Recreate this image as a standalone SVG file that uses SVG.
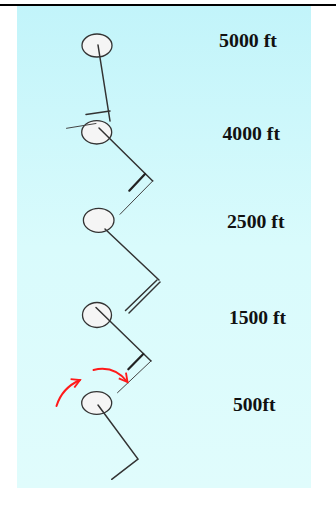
<svg xmlns="http://www.w3.org/2000/svg" width="336" height="508" viewBox="0 0 336 508">
<defs>
<linearGradient id="bg" x1="0" y1="0" x2="0" y2="1">
<stop offset="0" stop-color="#c2f4fa"/>
<stop offset="0.5" stop-color="#d9fbfc"/>
<stop offset="1" stop-color="#e0fcfc"/>
</linearGradient>
<marker id="ah2" viewBox="0 0 12 12" refX="10" refY="6" markerWidth="11" markerHeight="11" orient="auto" markerUnits="userSpaceOnUse">
<path d="M1,1 L10,6 L1,11" fill="none" stroke="#ff1a1a" stroke-width="2"/>
</marker>
</defs>
<style>
.balloon{fill:#f5f5f5;stroke:#333;stroke-width:1.3}
.line{fill:none;stroke:#333;stroke-width:1.5;stroke-linecap:round}
.thin{fill:none;stroke:#444;stroke-width:1;stroke-linecap:round}
.barb{fill:none;stroke:#222;stroke-width:2.2;stroke-linecap:round}
.lbl{font-family:"Liberation Serif","Times New Roman",serif;font-weight:bold;font-size:18px;fill:#111}
.red{fill:none;stroke:#ff1a1a;stroke-width:2;stroke-linecap:round}
</style>
<rect x="0" y="4" width="336" height="2" fill="#000"/>
<rect x="17" y="6" width="294" height="482" fill="url(#bg)"/>

<g id="balloon-5000">
<ellipse class="balloon" cx="97" cy="45.5" rx="15" ry="11.5"/>
<text class="lbl" x="219" y="47" textLength="58" lengthAdjust="spacingAndGlyphs">5000 ft</text>
</g>
<g id="balloon-4000">
<ellipse class="balloon" cx="96.7" cy="132.3" rx="15" ry="11.7"/>
<text class="lbl" x="222.5" y="139.5" textLength="57.5" lengthAdjust="spacingAndGlyphs">4000 ft</text>
</g>
<g id="balloon-2500">
<ellipse class="balloon" cx="98.7" cy="220.3" rx="15.3" ry="12"/>
<text class="lbl" x="227" y="228" textLength="57.5" lengthAdjust="spacingAndGlyphs">2500 ft</text>
</g>
<g id="balloon-1500">
<ellipse class="balloon" cx="97" cy="315" rx="14.5" ry="12.5"/>
<text class="lbl" x="229" y="324" textLength="57" lengthAdjust="spacingAndGlyphs">1500 ft</text>
</g>
<g id="balloon-500">
<ellipse class="balloon" cx="96.7" cy="403" rx="15" ry="11.3"/>
<text class="lbl" x="233" y="410.5" textLength="42.5" lengthAdjust="spacingAndGlyphs">500ft</text>
</g>

<g id="connectors">
<path class="line" d="M98,45 L110,121"/>
<path class="line" d="M86,114.5 L110,111"/>
<path class="thin" d="M66.5,128.3 L96,123.5"/>
<path class="line" d="M99,128 L152.7,181"/>
<path class="thin" d="M152.7,181 L120,214.3"/>
<path class="barb" d="M145,174 L129.3,190.7"/>
<path class="line" d="M105,229 L159,280"/>
<path class="line" d="M157,280 L125.5,310.5"/>
<path class="line" d="M160,282 L129,313"/>
<path class="line" d="M96,307.5 L151,361"/>
<path class="thin" d="M151,361 L117.5,392.7"/>
<path class="barb" d="M143.3,354 L128.3,369.3"/>
<path class="line" d="M98,405 L138,459 L111.7,479.3"/>
<path class="red" d="M56.5,406 Q62,388 80,380" marker-end="url(#ah2)"/>
<path class="red" d="M93.5,370 Q114,365 127.5,382" marker-end="url(#ah2)"/>
</g>
</svg>
